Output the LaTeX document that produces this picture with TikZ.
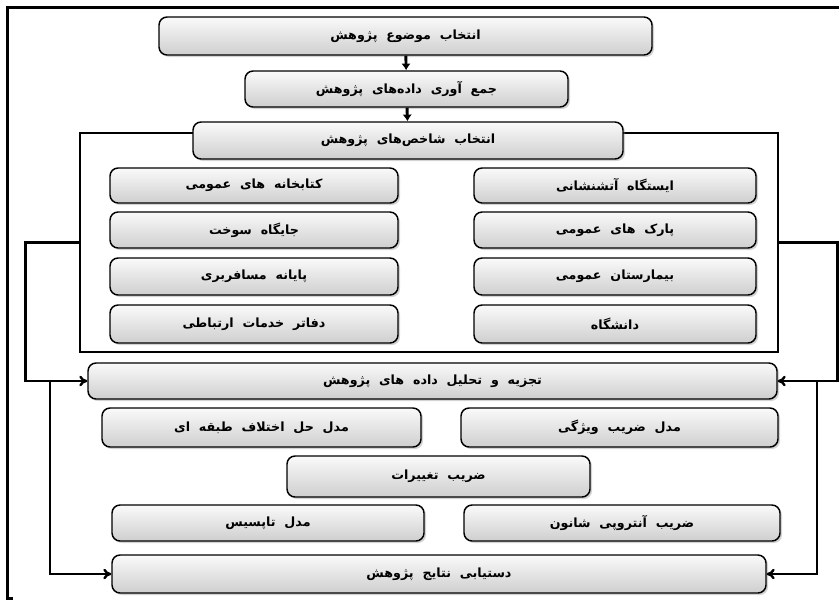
\documentclass[tikz,border=0pt]{standalone}
\usepackage{fontspec}
\usepackage{tikz}
\usetikzlibrary{shadows,arrows.meta}
\TeXXeTstate=1
\newfontfamily\farsi[Script=Arabic,WordSpace=2]{DejaVu Sans}
\newcommand{\fatxt}[1]{{\farsi\bfseries\beginR #1\endR}}
\tikzset{
  stage/.style={draw,line width=1.1pt,rounded corners=6pt,inner sep=0pt,
    top color=gray!4,bottom color=gray!38,font=\fontsize{9.5}{11}\selectfont,
    drop shadow={shadow xshift=1.5pt,shadow yshift=-1.5pt,opacity=0.35}},
  loopline/.style={line width=1.8pt,-{To[length=6pt,width=8pt]}},
  flow/.style={line width=2.2pt,-{Latex[length=5pt,width=7pt]}}
}

\begin{document}
\begin{tikzpicture}[x=0.75pt,y=0.75pt,yscale=-1,xscale=1]
\useasboundingbox (0,0) rectangle (839,600);
\draw[line width=2.25pt] (839,7) -- (7,7) -- (7,598) -- (13,598);
% group of indices
\draw (429,242.5) node[draw,line width=2pt,minimum width=523.5pt,minimum height=164.25pt] (grp) {};
\draw (405.5,36) node[stage,minimum width=369.75pt,minimum height=28.5pt] (topic) {\fatxt{انتخاب موضوع پژوهش}};
\draw (406.5,89) node[stage,minimum width=242.25pt,minimum height=27pt] (collect) {\fatxt{جمع آوری داده‌های پژوهش}};
\draw (408,140.5) node[stage,minimum width=322.5pt,minimum height=27.75pt] (indices) {\fatxt{انتخاب شاخص‌های پژوهش}};
\draw (254,185.5) node[stage,minimum width=216pt,minimum height=26.25pt] (library) {\fatxt{کتابخانه های عمومی}};
\draw (615,185.5) node[stage,minimum width=211.5pt,minimum height=26.25pt] (fire) {\fatxt{ایستگاه آتشنشانی}};
\draw (254,230) node[stage,minimum width=216pt,minimum height=27pt] (fuel) {\fatxt{جایگاه سوخت}};
\draw (615,230) node[stage,minimum width=211.5pt,minimum height=27pt] (park) {\fatxt{پارک های عمومی}};
\draw (254,276.5) node[stage,minimum width=216pt,minimum height=27.75pt] (terminal) {\fatxt{پایانه مسافربری}};
\draw (615,276.5) node[stage,minimum width=211.5pt,minimum height=27.75pt] (hospital) {\fatxt{بیمارستان عمومی}};
\draw (254,324) node[stage,minimum width=216pt,minimum height=28.5pt] (telecom) {\fatxt{دفاتر خدمات ارتباطی}};
\draw (615,324) node[stage,minimum width=211.5pt,minimum height=28.5pt] (univ) {\fatxt{دانشگاه}};
% analysis
\draw (432.5,381) node[stage,minimum width=516.75pt,minimum height=27pt] (analysis) {\fatxt{تجزیه و تحلیل داده های پژوهش}};
\draw (261.5,427.5) node[stage,minimum width=239.25pt,minimum height=29.25pt] (classmod) {\fatxt{مدل حل اختلاف طبقه ای}};
\draw (619.5,427.5) node[stage,minimum width=237.75pt,minimum height=29.25pt] (featmod) {\fatxt{مدل ضریب ویژگی}};
\draw (438.5,476.5) node[stage,minimum width=227.25pt,minimum height=30.75pt] (cv) {\fatxt{ضریب تغییرات}};
\draw (268,523) node[stage,minimum width=234pt,minimum height=27pt] (topsis) {\fatxt{مدل تاپسیس}};
\draw (622,523) node[stage,minimum width=237pt,minimum height=27pt] (entropy) {\fatxt{ضریب آنتروپی شانون}};
\draw (439,574) node[stage,minimum width=490.5pt,minimum height=28.5pt] (results) {\fatxt{دستیابی نتایج پژوهش}};
% arrows
\draw[flow] (topic) -- (collect);
\draw[flow] (collect) -- (indices);
\draw[loopline] (grp.west) -- ++(-53,0) |- (analysis.west);
\draw[loopline] (grp.east) -- ++(58,0) |- (analysis.east);
\coordinate (lsplit) at (50,381);
\coordinate (rsplit) at (817,381);
\draw[loopline] (lsplit) |- (results.west);
\draw[loopline] (rsplit) |- (results.east);
\end{tikzpicture}
\end{document}
